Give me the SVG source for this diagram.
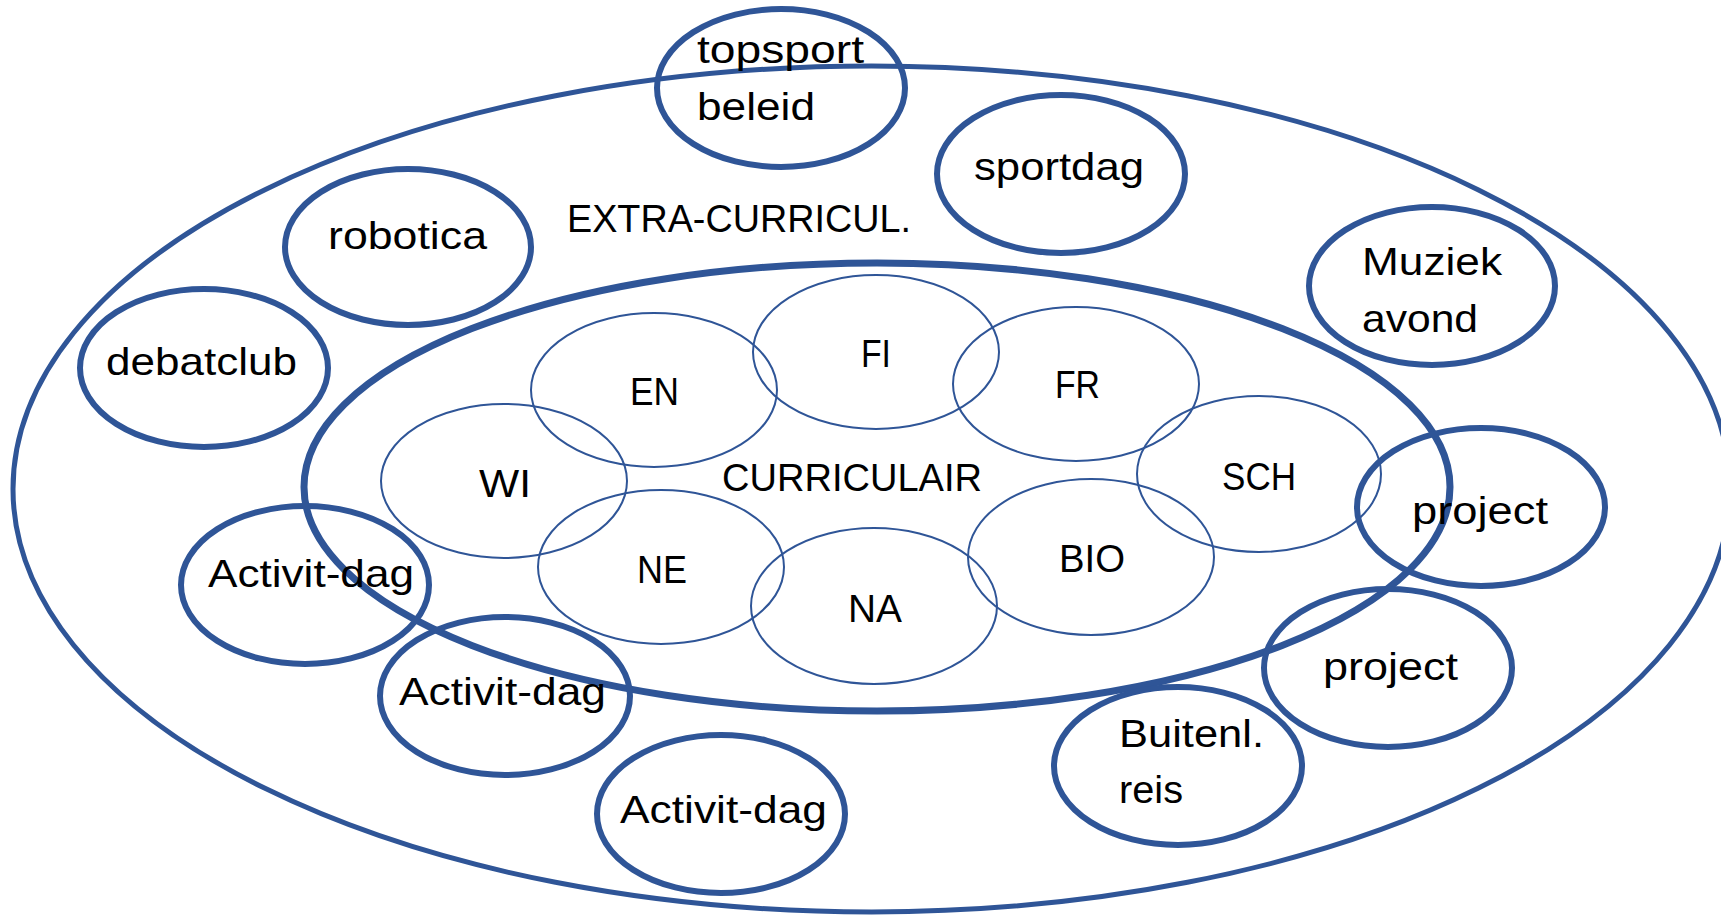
<svg xmlns="http://www.w3.org/2000/svg" width="1721" height="915" viewBox="0 0 1721 915">
<style>
.outer{fill:none;stroke:#2F5597;stroke-width:5}
.inner{fill:none;stroke:#2F5597;stroke-width:7}
.thick{fill:none;stroke:#2F5597;stroke-width:6}
.thin{fill:none;stroke:#2F5597;stroke-width:2}
text{font-family:"Liberation Sans",Arial,sans-serif;font-size:39px;fill:#000}
</style>
<rect width="1721" height="915" fill="#fff"/>
<g id="extra-curricul">
<ellipse class="outer" cx="871.5" cy="489" rx="858.5" ry="423"/>
<text x="567" y="232" textLength="344" lengthAdjust="spacingAndGlyphs">EXTRA-CURRICUL.</text>
</g>
<g id="curriculair">
<ellipse class="inner" cx="877" cy="487" rx="573" ry="224"/>
<text x="722" y="491" textLength="260" lengthAdjust="spacingAndGlyphs">CURRICULAIR</text>
</g>
<g id="FI"><ellipse class="thin" cx="876" cy="352" rx="123" ry="77"/><text x="861" y="367" textLength="30" lengthAdjust="spacingAndGlyphs">FI</text></g>
<g id="EN"><ellipse class="thin" cx="654" cy="390" rx="123" ry="77"/><text x="630" y="405" textLength="49" lengthAdjust="spacingAndGlyphs">EN</text></g>
<g id="FR"><ellipse class="thin" cx="1076" cy="384" rx="123" ry="77"/><text x="1055" y="398" textLength="45" lengthAdjust="spacingAndGlyphs">FR</text></g>
<g id="WI"><ellipse class="thin" cx="504" cy="481" rx="123" ry="77"/><text x="479" y="497" textLength="52" lengthAdjust="spacingAndGlyphs">WI</text></g>
<g id="SCH"><ellipse class="thin" cx="1259" cy="474" rx="122" ry="78"/><text x="1222" y="490" textLength="74" lengthAdjust="spacingAndGlyphs">SCH</text></g>
<g id="NE"><ellipse class="thin" cx="661" cy="567" rx="123" ry="77"/><text x="637" y="583" textLength="50" lengthAdjust="spacingAndGlyphs">NE</text></g>
<g id="NA"><ellipse class="thin" cx="874" cy="606" rx="123" ry="78"/><text x="848" y="622" textLength="54" lengthAdjust="spacingAndGlyphs">NA</text></g>
<g id="BIO"><ellipse class="thin" cx="1091" cy="557" rx="123" ry="78"/><text x="1059" y="572" textLength="66" lengthAdjust="spacingAndGlyphs">BIO</text></g>
<g id="topsport"><ellipse class="thick" cx="781" cy="88" rx="124" ry="79"/><text x="697" y="63" textLength="167" lengthAdjust="spacingAndGlyphs">topsport</text><text x="697" y="120" textLength="118" lengthAdjust="spacingAndGlyphs">beleid</text></g>
<g id="sportdag"><ellipse class="thick" cx="1061" cy="174" rx="124" ry="79"/><text x="974" y="180" textLength="170" lengthAdjust="spacingAndGlyphs">sportdag</text></g>
<g id="robotica"><ellipse class="thick" cx="408" cy="247" rx="123" ry="78"/><text x="328" y="249" textLength="159" lengthAdjust="spacingAndGlyphs">robotica</text></g>
<g id="debatclub"><ellipse class="thick" cx="204" cy="368" rx="124" ry="79"/><text x="106" y="375" textLength="191" lengthAdjust="spacingAndGlyphs">debatclub</text></g>
<g id="muziek"><ellipse class="thick" cx="1432" cy="286" rx="123" ry="79"/><text x="1362" y="275" textLength="140" lengthAdjust="spacingAndGlyphs">Muziek</text><text x="1362" y="332" textLength="116" lengthAdjust="spacingAndGlyphs">avond</text></g>
<g id="project1"><ellipse class="thick" cx="1481" cy="507" rx="124" ry="79"/><text x="1412" y="524" textLength="136" lengthAdjust="spacingAndGlyphs">project</text></g>
<g id="project2"><ellipse class="thick" cx="1388" cy="668" rx="124" ry="79"/><text x="1323" y="680" textLength="135" lengthAdjust="spacingAndGlyphs">project</text></g>
<g id="buitenl"><ellipse class="thick" cx="1178" cy="766" rx="124" ry="79"/><text x="1119" y="747" textLength="145" lengthAdjust="spacingAndGlyphs">Buitenl.</text><text x="1119" y="803" textLength="64" lengthAdjust="spacingAndGlyphs">reis</text></g>
<g id="activit1"><ellipse class="thick" cx="305" cy="585" rx="124" ry="79"/><text x="208" y="587" textLength="206" lengthAdjust="spacingAndGlyphs">Activit-dag</text></g>
<g id="activit2"><ellipse class="thick" cx="505" cy="696" rx="125" ry="79"/><text x="399" y="705" textLength="207" lengthAdjust="spacingAndGlyphs">Activit-dag</text></g>
<g id="activit3"><ellipse class="thick" cx="721" cy="814" rx="124" ry="79"/><text x="620" y="823" textLength="207" lengthAdjust="spacingAndGlyphs">Activit-dag</text></g>
<g id="connectors"></g>
</svg>
